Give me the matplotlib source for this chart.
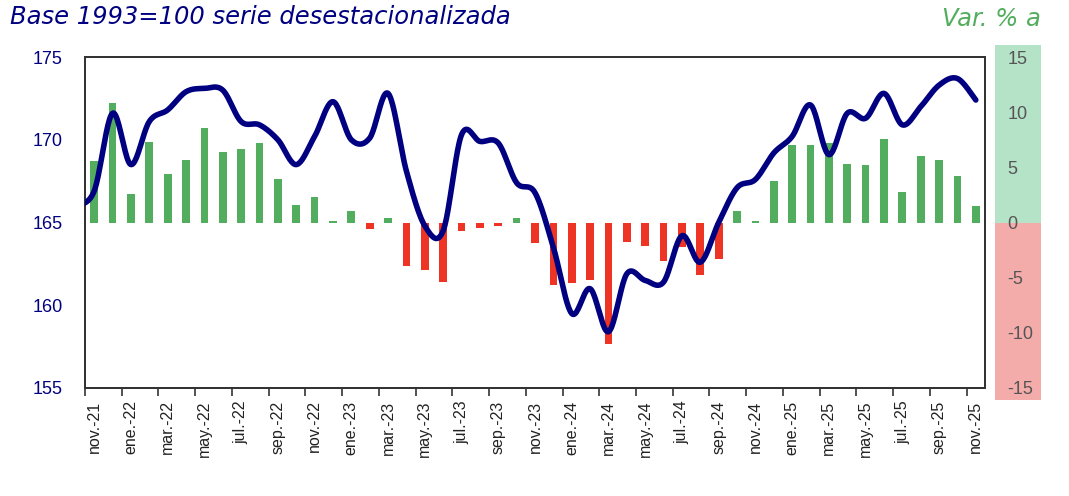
import numpy as np
import matplotlib
matplotlib.use('Agg')
import matplotlib.pyplot as plt
from matplotlib.patches import Rectangle

# ---- data ----
meses = ['ene.', 'feb.', 'mar.', 'abr.', 'may.', 'jun.',
         'jul.', 'ago.', 'sep.', 'oct.', 'nov.', 'dic.']
# nov.-21 ... nov.-25
fechas = [f"{meses[(10 + k) % 12]}-{21 + (10 + k) // 12}" for k in range(49)]

# indice base 1993=100, serie desestacionalizada (el primer valor es oct.-21, queda recortado)
indice = [166.0,
          166.9, 171.6, 168.5, 171.1, 171.8, 172.9, 173.1, 173.0, 171.1, 170.9,
          170.0, 168.5, 170.2, 172.3, 170.0, 170.1, 172.8, 168.1, 164.8, 164.5,
          170.3, 169.9, 169.8, 167.4, 166.8, 163.5, 159.5, 161.0, 158.4, 161.9,
          161.5, 161.4, 164.2, 162.6, 165.0, 167.1, 167.6, 169.2, 170.2, 172.1,
          169.1, 171.6, 171.3, 172.8, 170.9, 172.0, 173.3, 173.7, 172.4]

# variacion % anual
var_anual = [5.6, 10.8, 2.6, 7.3, 4.4, 5.7, 8.6, 6.4, 6.7, 7.2,
             3.9, 1.6, 2.3, 0.1, 1.0, -0.6, 0.4, -3.9, -4.3, -5.4,
             -0.8, -0.5, -0.3, 0.4, -1.9, -5.7, -5.5, -5.2, -11.0, -1.8,
             -2.1, -3.5, -2.2, -4.8, -3.3, 1.0, 0.15, 3.8, 7.0, 7.0,
             7.2, 5.3, 5.2, 7.6, 2.8, 6.0, 5.7, 4.2, 1.5]

AZUL = '#000080'
VERDE = '#52AE5E'
ROJO = '#EE3424'


def suavizar(x, y, n=24):
    """Curva suavizada tipo Excel (Bezier con tangentes Catmull-Rom)."""
    p = np.column_stack([x, y]).astype(float)
    out = []
    t = np.linspace(0, 1, n)[:, None]
    for i in range(len(p) - 1):
        p0 = p[i - 1] if i > 0 else p[i]
        p1, p2 = p[i], p[i + 1]
        p3 = p[i + 2] if i + 2 < len(p) else p[i + 1]
        c1 = p1 + (p2 - p0) / 6
        c2 = p2 - (p3 - p1) / 6
        seg = ((1 - t) ** 3) * p1 + 3 * ((1 - t) ** 2) * t * c1 + 3 * (1 - t) * t ** 2 * c2 + t ** 3 * p2
        out.append(seg if i == 0 else seg[1:])
    out = np.vstack(out)
    return out[:, 0], out[:, 1]


plt.rcParams['font.family'] = ['Liberation Sans', 'DejaVu Sans']
plt.rcParams['axes.unicode_minus'] = False

fig = plt.figure(figsize=(10.69, 4.96), dpi=100)

# banda de color del eje derecho
band = fig.add_axes([995 / 1069, 96 / 496, 46 / 1069, 355 / 496], zorder=-1)
band.set_xlim(0, 1)
band.set_ylim(-16.1, 16.1)
band.add_patch(Rectangle((0, 0), 1, 16.1, color='#B5E3C8', lw=0))
band.add_patch(Rectangle((0, -16.1), 1, 16.1, color='#F3ACAA', lw=0))
band.axis('off')

ax = fig.add_axes([85 / 1069, 108 / 496, 900 / 1069, 331 / 496])
axl = ax.twinx()

x = np.arange(len(var_anual))
colores = [VERDE if v >= 0 else ROJO for v in var_anual]
ax.bar(x, var_anual, width=0.42, color=colores, zorder=2)
ax.set_ylim(-15, 15)
ax.set_xlim(-0.5, len(var_anual) - 0.5)
ax.yaxis.tick_right()
ax.set_yticks([-15, -10, -5, 0, 5, 10, 15])
ax.tick_params(axis='y', length=0, pad=16, labelsize=13, labelcolor='#555555')

axl.yaxis.tick_left()
xs, ys = suavizar(np.arange(-1, len(indice) - 1), indice)
axl.plot(xs, ys, color=AZUL, lw=4, solid_capstyle='round', zorder=3)
axl.set_ylim(155, 175)
axl.set_yticks([155, 160, 165, 170, 175])
axl.tick_params(axis='y', length=0, pad=16, labelsize=13, labelcolor=AZUL)
axl.set_xlim(-0.5, len(var_anual) - 0.5)

# eje x: marcas entre categorias cada 2 meses, etiquetas en el centro
ax.set_xticks(np.arange(-0.5, len(var_anual) - 1, 2))
ax.set_xticklabels([])
ax.tick_params(axis='x', which='major', length=6, width=1.2, color='#333333', direction='out')
ax.set_xticks(np.arange(0, len(var_anual), 2), minor=True)
ax.set_xticklabels(fechas[::2], minor=True, rotation=90, fontsize=11.5, color='#222222')
ax.tick_params(axis='x', which='minor', length=0, pad=9)

for a in (ax, axl):
    for s in a.spines.values():
        s.set_color('#333333')
        s.set_linewidth(1.3)

fig.text(10 / 1069, 1 - 24 / 496, 'Base 1993=100 serie desestacionalizada', color=AZUL,
         fontsize=17.5, style='italic', family='DejaVu Sans', ha='left', va='baseline')
fig.text(1041 / 1069, 1 - 26 / 496, 'Var. % a', color=VERDE,
         fontsize=17.5, style='italic', family='DejaVu Sans', ha='right', va='baseline')

fig.savefig('out.png', dpi=100)
